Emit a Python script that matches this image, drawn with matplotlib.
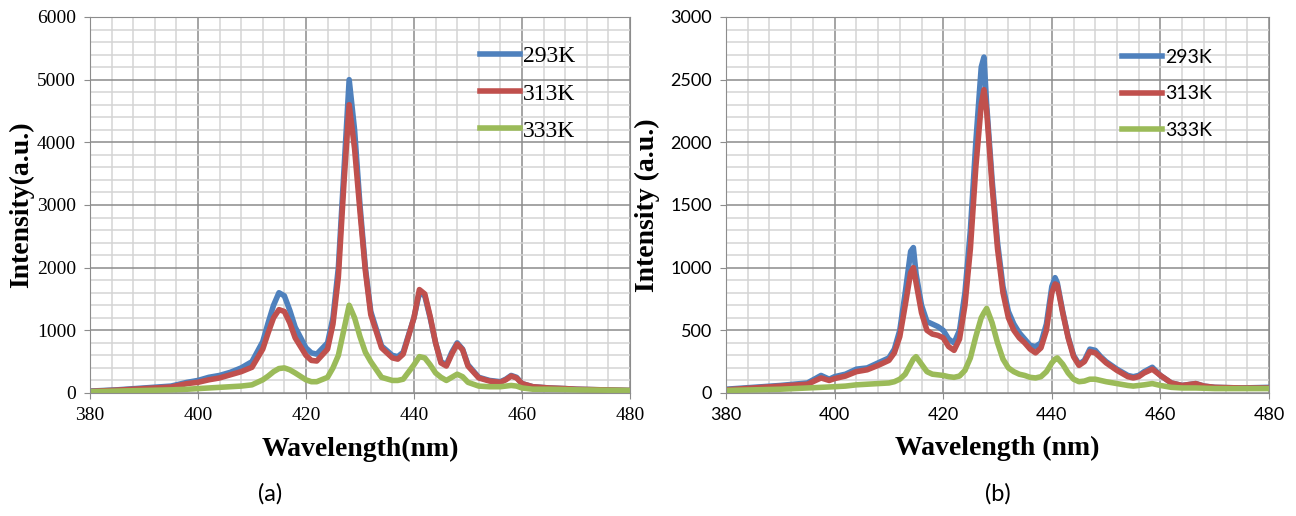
import matplotlib
matplotlib.use('Agg')
import matplotlib.pyplot as plt
from matplotlib.ticker import MultipleLocator

# ---- panel (a) ----
wl_a = [380, 385, 390, 395, 398, 400, 402, 404, 406, 408, 410, 412, 413, 414, 415, 416,
        417, 418, 420, 421, 422, 424, 425, 426, 427, 428, 429, 430, 431, 432, 434, 436,
        437, 438, 440, 441, 442, 443, 444, 445, 446, 447, 448, 449, 450, 452, 454, 456,
        457, 458, 459, 460, 462, 465, 468, 470, 475, 480]
a_293 = [30, 50, 80, 110, 170, 200, 250, 280, 330, 400, 500, 820, 1120, 1400, 1600, 1550,
         1320, 1050, 720, 640, 620, 800, 1200, 2000, 3500, 5000, 4200, 3000, 2000, 1300, 750, 600,
         580, 650, 1200, 1600, 1550, 1200, 800, 500, 450, 650, 800, 700, 450, 250, 200, 180,
         220, 280, 250, 150, 100, 80, 70, 60, 50, 40]
a_313 = [25, 45, 70, 95, 150, 170, 210, 240, 290, 340, 410, 700, 960, 1200, 1330, 1300,
         1120, 880, 600, 520, 510, 700, 1100, 1850, 3300, 4600, 3900, 2900, 1950, 1250, 720, 560,
         540, 620, 1200, 1650, 1580, 1220, 800, 480, 430, 620, 780, 690, 430, 240, 190, 170,
         210, 270, 240, 150, 100, 80, 70, 60, 50, 40]
a_333 = [20, 30, 40, 50, 60, 70, 80, 90, 100, 110, 130, 210, 270, 340, 390, 400,
         370, 320, 210, 180, 180, 250, 400, 600, 1000, 1400, 1200, 900, 650, 500, 250, 200,
         200, 220, 450, 580, 560, 450, 320, 250, 200, 250, 300, 260, 170, 110, 100, 100,
         110, 120, 110, 80, 60, 60, 55, 50, 45, 40]

# ---- panel (b) ----
wl_b = [380, 385, 390, 395, 397.5, 399, 400, 402, 404, 406, 408, 410, 411, 412, 413, 414,
        414.5, 415, 416, 417, 418, 419, 420, 421, 422, 423, 424, 425, 426, 427, 427.5, 428,
        429, 430, 431, 432, 433, 434, 435, 436, 437, 438, 439, 440, 440.6, 441, 442, 443,
        444, 445, 446, 447, 448, 449, 450, 452, 454, 455, 456, 457, 458.5, 460, 462, 464,
        466.5, 468, 470, 475, 480]
b_293 = [30, 45, 60, 80, 140, 110, 130, 150, 190, 200, 240, 280, 350, 500, 800, 1130,
         1160, 950, 700, 570, 550, 530, 500, 430, 400, 500, 800, 1300, 2000, 2600, 2680, 2300,
         1700, 1200, 850, 650, 550, 480, 430, 380, 370, 400, 550, 850, 920, 880, 650, 450,
         300, 230, 260, 350, 340, 290, 250, 190, 140, 130, 140, 170, 205, 140, 80, 60,
         75, 55, 45, 40, 45]
b_313 = [25, 40, 55, 70, 120, 100, 115, 135, 170, 185, 220, 260, 320, 450, 700, 960,
         1000, 880, 640, 500, 470, 460, 440, 370, 340, 430, 700, 1150, 1800, 2300, 2420, 2250,
         1650, 1150, 800, 600, 500, 440, 400, 350, 320, 360, 500, 800, 870, 860, 640, 440,
         290, 220, 250, 330, 320, 280, 240, 180, 130, 120, 130, 160, 190, 140, 80, 60,
         75, 55, 45, 40, 40]
b_333 = [20, 25, 30, 40, 45, 48, 50, 55, 65, 70, 75, 80, 90, 110, 150, 230,
         270, 290, 230, 170, 150, 145, 140, 130, 125, 135, 180, 280, 450, 600, 640, 675,
         560, 400, 270, 200, 170, 150, 140, 125, 120, 130, 170, 240, 270, 280, 230, 160,
         110, 90, 95, 110, 110, 100, 90, 75, 60, 55, 60, 65, 75, 60, 45, 40,
         40, 38, 35, 35, 35]

labels = ['293K', '313K', '333K']
colors = ['#4F81BD', '#C0504D', '#9BBB59']

serif = 'Liberation Serif'
sans = 'Lato'

fig = plt.figure(figsize=(12.96, 5.16), dpi=100)
ax1 = fig.add_axes([0.0694, 0.2384, 0.4167, 0.7287])
ax2 = fig.add_axes([0.5602, 0.2384, 0.4190, 0.7287])


def style_axes(ax, ymax, ymajor, tickfont, ticksize, xlabel):
    ax.set_xlim(380, 480)
    ax.set_ylim(0, ymax)
    ax.xaxis.set_major_locator(MultipleLocator(20))
    ax.xaxis.set_minor_locator(MultipleLocator(4))
    ax.yaxis.set_major_locator(MultipleLocator(ymajor))
    ax.yaxis.set_minor_locator(MultipleLocator(ymajor / 5))
    ax.grid(True, which='major', color='#8c8c8c', linewidth=1.1)
    ax.grid(True, which='minor', color='#d4d4d4', linewidth=1.1)
    ax.set_axisbelow(True)
    for s in ax.spines.values():
        s.set_color('#8c8c8c')
    ax.tick_params(which='minor', length=0)
    ax.tick_params(which='major', length=4, color='#8c8c8c', labelsize=ticksize, pad=6)
    for t in ax.get_xticklabels() + ax.get_yticklabels():
        t.set_fontfamily(tickfont)
    ax.set_xlabel(xlabel, fontfamily=serif, fontweight='bold', fontsize=20, labelpad=9)


# panel (a)
for y, lab, c in zip([a_293, a_313, a_333], labels, colors):
    ax1.plot(wl_a, y, color=c, linewidth=4, label=lab)
style_axes(ax1, 6000, 1000, serif, 14, 'Wavelength(nm)')
ax1.set_ylabel('Intensity(a.u.)', fontfamily=serif, fontweight='bold', fontsize=20, va='center')
ax1.yaxis.set_label_coords(-0.126, 0.5)
ax1.legend(loc='upper left', bbox_to_anchor=(0.722, 0.923), frameon=False,
           prop={'family': serif, 'size': 17}, handlelength=1.7, handletextpad=0.13,
           labelspacing=0.66, borderaxespad=0, borderpad=0)

# panel (b)
for y, lab, c in zip([b_293, b_313, b_333], labels, colors):
    ax2.plot(wl_b, y, color=c, linewidth=4, label=lab)
style_axes(ax2, 3000, 500, sans, 13, 'Wavelength (nm)')
ax2.set_ylabel('Intensity (a.u.)', fontfamily=serif, fontweight='bold', fontsize=20, va='center')
ax2.yaxis.set_label_coords(-0.1455, 0.5)
ax2.legend(loc='upper left', bbox_to_anchor=(0.729, 0.915), frameon=False,
           prop={'family': sans, 'size': 14}, handlelength=2.06, handletextpad=0.15,
           labelspacing=1.0, borderaxespad=0, borderpad=0)

fig.text(0.2084, 0.0426, '(a)', fontfamily=sans, fontsize=17, ha='center', va='center')
fig.text(0.7697, 0.0426, '(b)', fontfamily=sans, fontsize=17, ha='center', va='center')

fig.savefig('out.png', dpi=100)
